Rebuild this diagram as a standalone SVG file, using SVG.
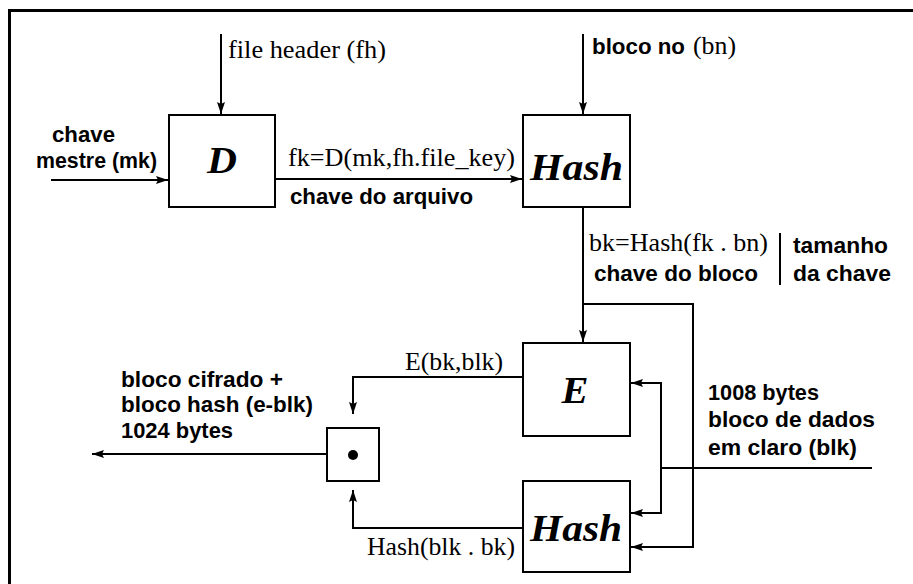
<svg xmlns="http://www.w3.org/2000/svg" width="913" height="584" viewBox="0 0 913 584">
<style>
.box{fill:#fff;stroke:#000;stroke-width:2}
.ln{fill:none;stroke:#000;stroke-width:2}
.arr{marker-end:url(#ah)}
.sf{font-family:"Liberation Serif","Times New Roman",serif;font-size:26px;fill:#000}
.sb{font-family:"Liberation Sans",Arial,sans-serif;font-size:22px;font-weight:bold;fill:#000}
.big{font-family:"Liberation Serif","Times New Roman",serif;font-weight:bold;font-style:italic;font-size:38px;fill:#000;text-anchor:middle}
</style>
<defs>
<marker id="ah" markerUnits="userSpaceOnUse" markerWidth="14" markerHeight="10" refX="12" refY="4.5" orient="auto">
<path d="M0,0.5 L12,4.5 L0,8.5 L2,4.5 z" fill="#000"/>
</marker>
</defs>
<rect width="913" height="584" fill="#fff"/>
<g id="frame">
<line x1="8" y1="10.5" x2="913" y2="10.5" stroke="#000" stroke-width="3"/>
<line x1="9.5" y1="9" x2="9.5" y2="584" stroke="#000" stroke-width="3"/>
</g>
<g id="connectors">
<line class="ln arr" x1="221" y1="34" x2="221" y2="114"/>
<line class="ln arr" x1="583" y1="34" x2="583" y2="114"/>
<line class="ln arr" x1="51" y1="180" x2="168" y2="180"/>
<line class="ln arr" x1="276" y1="179" x2="522" y2="179"/>
<line class="ln arr" x1="583" y1="208" x2="583" y2="342"/>
<polyline class="ln arr" points="583,304 693,304 693,547 631,547"/>
<line class="ln" x1="872" y1="468" x2="661" y2="468"/>
<polyline class="ln arr" points="661,468 661,383 631,383"/>
<polyline class="ln arr" points="661,468 661,513 631,513"/>
<polyline class="ln arr" points="523,377 353,377 353,414"/>
<polyline class="ln arr" points="523,528 353,528 353,490"/>
<line class="ln arr" x1="327" y1="454" x2="92" y2="454"/>
<line class="ln" x1="780" y1="233" x2="780" y2="285"/>
</g>
<g id="node-D">
<rect class="box" x="169" y="115" width="106" height="92"/>
<text class="big" x="222" y="173" textLength="30" lengthAdjust="spacingAndGlyphs">D</text>
</g>
<g id="node-Hash1">
<rect class="box" x="523" y="115" width="107" height="92"/>
<text class="big" x="576.5" y="180" textLength="93" lengthAdjust="spacingAndGlyphs">Hash</text>
</g>
<g id="node-E">
<rect class="box" x="523" y="343" width="107" height="93"/>
<text class="big" x="575" y="403" textLength="27" lengthAdjust="spacingAndGlyphs">E</text>
</g>
<g id="node-Hash2">
<rect class="box" x="523" y="481" width="107" height="91"/>
<text class="big" x="576" y="541" textLength="92" lengthAdjust="spacingAndGlyphs">Hash</text>
</g>
<g id="node-dot">
<rect class="box" x="327" y="428" width="52" height="53"/>
<circle cx="353" cy="455" r="5" fill="#000"/>
</g>
<g id="labels">
<text class="sf" x="228" y="58" textLength="158" lengthAdjust="spacingAndGlyphs">file header (fh)</text>
<text class="sb" x="592" y="54" textLength="93" lengthAdjust="spacingAndGlyphs">bloco no</text>
<text class="sf" x="693" y="54" textLength="43" lengthAdjust="spacingAndGlyphs">(bn)</text>
<text class="sb" x="52" y="142" textLength="63" lengthAdjust="spacingAndGlyphs">chave</text>
<text class="sb" x="36" y="168" textLength="121" lengthAdjust="spacingAndGlyphs">mestre (mk)</text>
<text class="sf" x="288" y="166" textLength="227" lengthAdjust="spacingAndGlyphs">fk=D(mk,fh.file_key)</text>
<text class="sb" x="290" y="204" textLength="183" lengthAdjust="spacingAndGlyphs">chave do arquivo</text>
<text class="sf" x="589" y="251" textLength="179" lengthAdjust="spacingAndGlyphs">bk=Hash(fk . bn)</text>
<text class="sb" x="594" y="281" textLength="164" lengthAdjust="spacingAndGlyphs">chave do bloco</text>
<text class="sb" x="793" y="253" textLength="95" lengthAdjust="spacingAndGlyphs">tamanho</text>
<text class="sb" x="793" y="281" textLength="98" lengthAdjust="spacingAndGlyphs">da chave</text>
<text class="sf" x="405" y="370" textLength="98" lengthAdjust="spacingAndGlyphs">E(bk,blk)</text>
<text class="sf" x="367" y="555" textLength="148" lengthAdjust="spacingAndGlyphs">Hash(blk . bk)</text>
<text class="sb" x="121" y="387" textLength="162" lengthAdjust="spacingAndGlyphs">bloco cifrado +</text>
<text class="sb" x="121" y="412" textLength="192" lengthAdjust="spacingAndGlyphs">bloco hash (e-blk)</text>
<text class="sb" x="121" y="438" textLength="112" lengthAdjust="spacingAndGlyphs">1024 bytes</text>
<text class="sb" x="708" y="400" textLength="111" lengthAdjust="spacingAndGlyphs">1008 bytes</text>
<text class="sb" x="708" y="427" textLength="167" lengthAdjust="spacingAndGlyphs">bloco de dados</text>
<text class="sb" x="708" y="455" textLength="149" lengthAdjust="spacingAndGlyphs">em claro (blk)</text>
</g>
</svg>
